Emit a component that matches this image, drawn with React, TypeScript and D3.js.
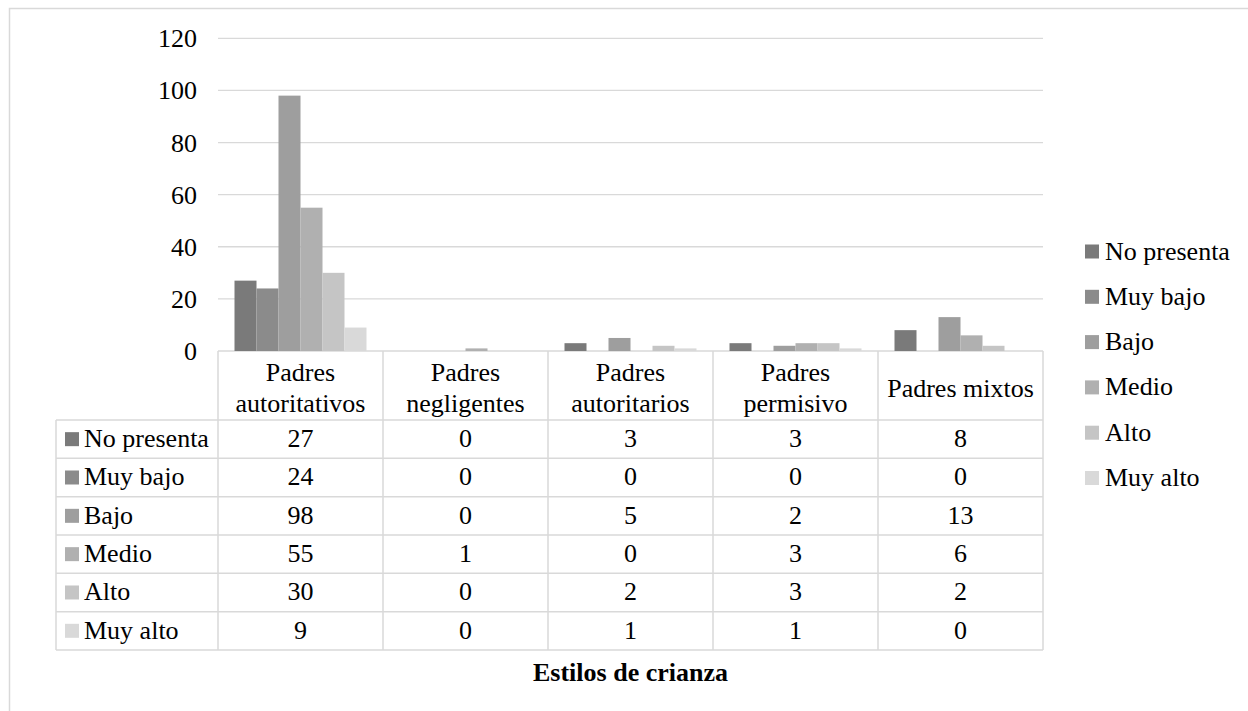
import React from "react";
import * as d3 from "d3";

const categories = [
  ["Padres", "autoritativos"],
  ["Padres", "negligentes"],
  ["Padres", "autoritarios"],
  ["Padres", "permisivo"],
  ["Padres mixtos"],
];
const seriesNames = ["No presenta", "Muy bajo", "Bajo", "Medio", "Alto", "Muy alto"];
const noPresenta = [27, 0, 3, 3, 8];
const muyBajo = [24, 0, 0, 0, 0];
const bajo = [98, 0, 5, 2, 13];
const medio = [55, 1, 0, 3, 6];
const alto = [30, 0, 2, 3, 2];
const muyAlto = [9, 0, 1, 1, 0];
const seriesValues = [noPresenta, muyBajo, bajo, medio, alto, muyAlto];
const colors = ["#7a7a7a", "#8b8b8b", "#9e9e9e", "#b0b0b0", "#c5c5c5", "#d9d9d9"];
const yTicks = [0, 20, 40, 60, 80, 100, 120];
const xTitle = "Estilos de crianza";

const W = 1248;
const H = 711;
const FONT = "'Liberation Serif', 'Times New Roman', Times, serif";
const FS = 26;
const GRID = "#d9d9d9";

export default function App() {
  const plotLeft = 218;
  const plotRight = 1043;
  const yZero = 351;
  const yTopV = 38.3;
  const tableLeft = 56;
  const headerBottom = 420;
  const rowH = 38.33;

  const x0 = d3
    .scaleBand<number>()
    .domain(d3.range(categories.length))
    .range([plotLeft, plotRight])
    .paddingInner(0)
    .paddingOuter(0);
  const x1 = d3
    .scaleBand<number>()
    .domain(d3.range(seriesNames.length))
    .range([0, x0.bandwidth()])
    .paddingInner(0)
    .paddingOuter(0.75);
  const y = d3.scaleLinear().domain([0, 120]).range([yZero, yTopV]);

  const tableBottom = headerBottom + rowH * seriesNames.length;
  const colEdges = d3.range(categories.length + 1).map((i) =>
    i < categories.length ? (x0(i) as number) : plotRight
  );

  const legendX = 1085;
  const legendY0 = 251.5;
  const legendStep = 45.3;
  const sq = 14;
  const txt = { fontFamily: FONT, fontSize: FS, fill: "#000" } as React.CSSProperties;

  return (
    <svg
      width={W}
      height={H}
      style={{ position: "absolute", left: 0, top: 0, background: "#fff", fontFamily: FONT }}
    >
      <rect x={0} y={0} width={W} height={H} fill="#fff" />
      <rect x={9.5} y={8.5} width={W + 20} height={H + 20} fill="none" stroke={GRID} strokeWidth={1.5} />

      {yTicks.map((t) => (
        <line key={"g" + t} x1={plotLeft} x2={plotRight} y1={y(t)} y2={y(t)} stroke={GRID} strokeWidth={1.3} />
      ))}
      {yTicks.map((t) => (
        <text key={"yl" + t} x={197} y={y(t) + 9} textAnchor="end" style={txt}>
          {t}
        </text>
      ))}

      {seriesValues.map((vals, si) =>
        vals.map((v, ci) => (
          <rect
            key={"b" + si + "-" + ci}
            x={(x0(ci) as number) + (x1(si) as number)}
            y={y(v)}
            width={x1.bandwidth()}
            height={yZero - y(v)}
            fill={colors[si]}
          />
        ))
      )}

      {colEdges.map((cx, i) => (
        <line key={"hv" + i} x1={cx} x2={cx} y1={yZero} y2={tableBottom} stroke={GRID} strokeWidth={1.5} />
      ))}
      <line x1={tableLeft} x2={tableLeft} y1={headerBottom} y2={tableBottom} stroke={GRID} strokeWidth={1.5} />
      {d3.range(seriesNames.length + 1).map((r) => (
        <line
          key={"hr" + r}
          x1={tableLeft}
          x2={plotRight}
          y1={headerBottom + r * rowH}
          y2={headerBottom + r * rowH}
          stroke={GRID}
          strokeWidth={1.5}
        />
      ))}
      {categories.map((lines, ci) => {
        const cx = (x0(ci) as number) + x0.bandwidth() / 2;
        const mid = (yZero + headerBottom) / 2;
        const lh = 31;
        const firstBase = mid + 9 - ((lines.length - 1) * lh) / 2 + 2;
        return (
          <text key={"hl" + ci} x={cx} textAnchor="middle" style={txt}>
            {lines.map((ln, li) => (
              <tspan key={li} x={cx} y={firstBase + li * lh}>
                {ln}
              </tspan>
            ))}
          </text>
        );
      })}
      {seriesNames.map((name, si) => {
        const cy = headerBottom + si * rowH + rowH / 2;
        return (
          <g key={"row" + si}>
            <rect x={65} y={cy - sq / 2} width={sq} height={sq} fill={colors[si]} />
            <text x={84} y={cy + 8} style={txt}>
              {name}
            </text>
            {seriesValues[si].map((v, ci) => (
              <text
                key={"c" + ci}
                x={(x0(ci) as number) + x0.bandwidth() / 2}
                y={cy + 8}
                textAnchor="middle"
                style={txt}
              >
                {v}
              </text>
            ))}
          </g>
        );
      })}

      <text
        x={(plotLeft + plotRight) / 2}
        y={tableBottom + 31}
        textAnchor="middle"
        style={{ ...txt, fontWeight: "bold" }}
      >
        {xTitle}
      </text>

      {seriesNames.map((name, si) => {
        const cy = legendY0 + si * legendStep;
        return (
          <g key={"lg" + si}>
            <rect x={legendX} y={cy - sq / 2} width={sq} height={sq} fill={colors[si]} />
            <text x={1105} y={cy + 8} style={txt}>
              {name}
            </text>
          </g>
        );
      })}
    </svg>
  );
}
